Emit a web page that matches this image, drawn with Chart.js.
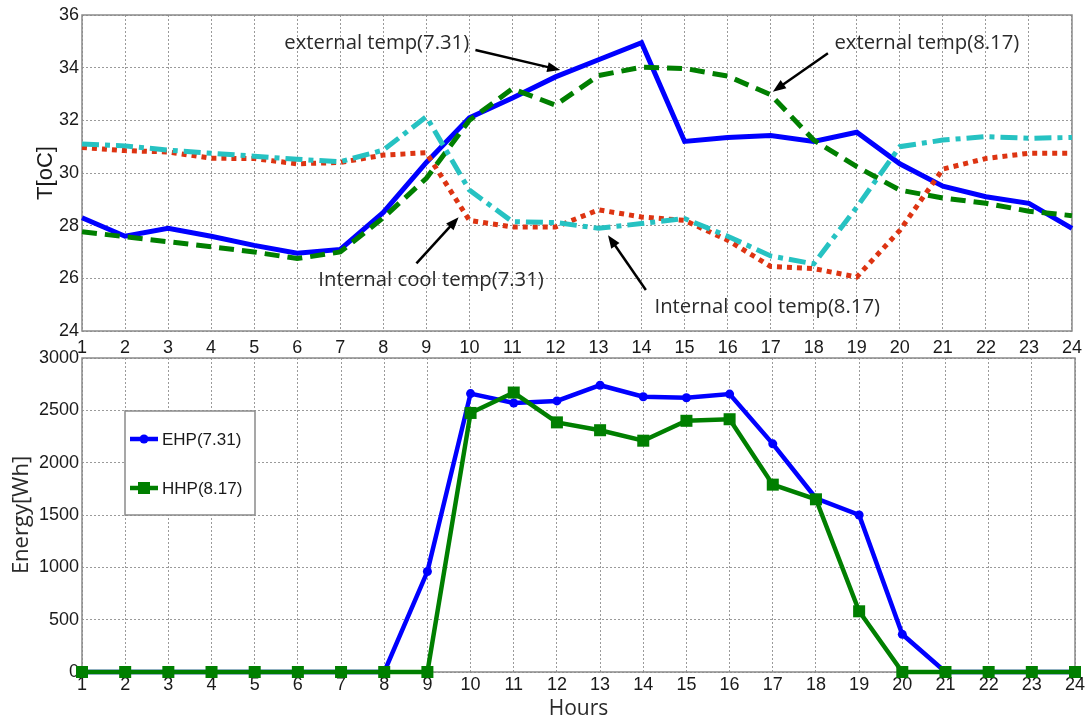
<!DOCTYPE html>
<html><head><meta charset="utf-8">
<script src="https://cdn.jsdelivr.net/npm/chart.js@4.4.0/dist/chart.umd.min.js"></script>
<style>
html,body{margin:0;padding:0;background:#fff;width:1088px;height:723px;overflow:hidden;}
#c1{position:absolute;left:0;top:0;}
#c2{position:absolute;left:0;top:340px;}
</style></head><body>
<canvas id="c1" width="1088" height="358"></canvas>
<canvas id="c2" width="1088" height="383"></canvas>
<script>
const hours = ['1','2','3','4','5','6','7','8','9','10','11','12','13','14','15','16','17','18','19','20','21','22','23','24'];
const extTemp731 = [28.3,27.6,27.9,27.6,27.25,26.95,27.1,28.5,30.4,32.1,32.85,33.65,34.3,34.95,31.2,31.35,31.42,31.2,31.55,30.35,29.5,29.1,28.85,27.9];
const intTemp731 = [30.97,30.85,30.8,30.56,30.55,30.35,30.4,30.68,30.77,28.2,27.95,27.95,28.6,28.33,28.2,27.45,26.45,26.37,26.05,27.82,30.15,30.55,30.75,30.75];
const extTemp817 = [27.77,27.58,27.39,27.2,27.0,26.75,27.0,28.3,29.8,32.0,33.2,32.58,33.7,34.02,33.97,33.68,32.97,31.25,30.24,29.35,29.05,28.85,28.55,28.38];
const intTemp817 = [31.1,31.03,30.87,30.75,30.64,30.52,30.43,30.87,32.14,29.35,28.15,28.12,27.9,28.08,28.27,27.6,26.85,26.55,28.7,31.0,31.25,31.38,31.32,31.35];
const tempTicks = [24,26,28,30,32,34,36];
const energyEHP731 = [0,0,0,0,0,0,0,0,960,2660,2570,2590,2740,2630,2620,2655,2180,1660,1500,360,0,0,0,0];
const energyHHP817 = [0,0,0,0,0,0,0,0,0,2475,2670,2385,2310,2210,2400,2415,1790,1650,580,0,0,0,0,0];
const energyTicks = [0,500,1000,1500,2000,2500,3000];

const tempNotes = [
  {text:'external temp(7.31)', at:[5.7,34.92], from:[10.14,34.67], to:[12.11,33.91]},
  {text:'external temp(8.17)', at:[18.48,34.92], from:[18.33,34.55], to:[17.05,33.09]},
  {text:'Internal cool temp(7.31)', at:[6.49,25.94], from:[8.77,26.57], to:[9.75,28.32]},
  {text:'Internal cool temp(8.17)', at:[14.30,24.92], from:[14.10,25.56], to:[13.22,27.64]}
];

const TICK_FONT = {family:'"Liberation Sans", Arial, sans-serif', size:18};
const NOTE_FONT = '20.3px "Open Sans", sans-serif';
const GRID = {color:'#9a9a9a', lineWidth:1, drawTicks:false};

const frame = {
  id:'frame',
  beforeDatasetsDraw(chart){
    const {ctx, chartArea:a} = chart;
    ctx.save(); ctx.strokeStyle='#8a8a8a'; ctx.lineWidth=1.5;
    ctx.strokeRect(a.left,a.top,a.right-a.left,a.bottom-a.top); ctx.restore();
  }
};

const notes = {
  id:'notes',
  afterDatasetsDraw(chart){
    const {ctx, scales:{x,y}} = chart;
    const px = h => x.getPixelForValue(h-1);
    ctx.save();
    tempNotes.forEach(n=>{
      ctx.font = NOTE_FONT; ctx.fillStyle='#2a2a2a'; ctx.textAlign='left'; ctx.textBaseline='middle';
      ctx.fillText(n.text, px(n.at[0]), y.getPixelForValue(n.at[1]));
      const x1=px(n.from[0]), y1=y.getPixelForValue(n.from[1]);
      const x2=px(n.to[0]), y2=y.getPixelForValue(n.to[1]);
      const ang=Math.atan2(y2-y1,x2-x1), L=13, W=5;
      ctx.strokeStyle='#000'; ctx.lineWidth=2.5;
      ctx.beginPath(); ctx.moveTo(x1,y1); ctx.lineTo(x2-Math.cos(ang)*L*0.8,y2-Math.sin(ang)*L*0.8); ctx.stroke();
      ctx.fillStyle='#000'; ctx.beginPath();
      ctx.moveTo(x2,y2);
      ctx.lineTo(x2-Math.cos(ang)*L-Math.sin(ang)*W, y2-Math.sin(ang)*L+Math.cos(ang)*W);
      ctx.lineTo(x2-Math.cos(ang)*L+Math.sin(ang)*W, y2-Math.sin(ang)*L-Math.cos(ang)*W);
      ctx.closePath(); ctx.fill();
    });
    ctx.restore();
  }
};

new Chart(document.getElementById('c1'), {
  type:'line',
  data:{labels:hours, datasets:[
    {data:extTemp731, borderColor:'#0000ff', borderWidth:5, pointRadius:0, order:4},
    {data:intTemp731, borderColor:'#dd3412', borderWidth:5, borderDash:[5,5], pointRadius:0, order:3},
    {data:extTemp817, borderColor:'#007f00', borderWidth:5, borderDash:[15,8], pointRadius:0, order:2},
    {data:intTemp817, borderColor:'#26c2c2', borderWidth:5, borderDash:[17,6,5,6], pointRadius:0, order:1}
  ]},
  options:{
    responsive:false, animation:false, devicePixelRatio:1,
    layout:{padding:{top:15,right:13,left:0,bottom:0}},
    plugins:{legend:{display:false}, tooltip:{enabled:false}},
    elements:{line:{tension:0, borderCapStyle:'butt', borderJoinStyle:'miter'}},
    scales:{
      x:{type:'category', offset:false, grid:{...GRID, offset:false}, border:{display:false, dash:[2,2]},
         ticks:{font:TICK_FONT, color:'#1a1a1a', padding:6, maxRotation:0, autoSkip:false},
         afterFit:s=>{s.height=27;}},
      y:{min:24, max:36, grid:GRID, border:{display:false, dash:[2,2]},
         afterBuildTicks:s=>{s.ticks=tempTicks.map(v=>({value:v}));},
         ticks:{font:TICK_FONT, color:'#1a1a1a', padding:3, callback:v=>String(v)},
         title:{display:true, text:'T[oC]', font:{family:'"Liberation Sans", Arial, sans-serif', size:22}, color:'#1a1a1a', padding:{top:33,bottom:0}},
         afterFit:s=>{s.width=82;}}
    }
  },
  plugins:[frame, notes]
});

const legendBox = {
  id:'legendBox',
  afterDatasetsDraw(chart){
    const {ctx, chartArea:a} = chart;
    const bx=a.left+43, by=a.top+53, bw=130, bh=104;
    ctx.save();
    ctx.fillStyle='#fff'; ctx.fillRect(bx,by,bw,bh);
    ctx.strokeStyle='#8a8a8a'; ctx.lineWidth=1.5; ctx.strokeRect(bx,by,bw,bh);
    const items=[{ds:chart.data.datasets[0], dy:28},{ds:chart.data.datasets[1], dy:77}];
    items.forEach(it=>{
      const d=it.ds, yy=by+it.dy;
      ctx.strokeStyle=d.borderColor; ctx.lineWidth=d.borderWidth;
      ctx.beginPath(); ctx.moveTo(bx+5,yy); ctx.lineTo(bx+33,yy); ctx.stroke();
      ctx.fillStyle=d.borderColor;
      if(d.pointStyle==='rect'){ ctx.fillRect(bx+19-6,yy-6,12,12); }
      else { ctx.beginPath(); ctx.arc(bx+19,yy,4.5,0,Math.PI*2); ctx.fill(); }
      ctx.fillStyle='#1a1a1a'; ctx.font='17px "Liberation Sans", Arial, sans-serif';
      ctx.textAlign='left'; ctx.textBaseline='middle';
      ctx.fillText(d.label, bx+37, yy+1);
    });
    ctx.restore();
  }
};

new Chart(document.getElementById('c2'), {
  type:'line',
  data:{labels:hours, datasets:[
    {label:'EHP(7.31)', data:energyEHP731, borderColor:'#0000ff', backgroundColor:'#0000ff', borderWidth:4.5, pointStyle:'circle', pointRadius:4.5, pointBorderWidth:0, order:2, clip:false},
    {label:'HHP(8.17)', data:energyHHP817, borderColor:'#007f00', backgroundColor:'#007f00', borderWidth:4.5, pointStyle:'rect', pointRadius:8.5, pointBorderWidth:0, order:1, clip:false}
  ]},
  options:{
    responsive:false, animation:false, devicePixelRatio:1,
    layout:{padding:{top:18,right:13,left:0,bottom:0}},
    plugins:{legend:{display:false}, tooltip:{enabled:false}},
    elements:{line:{tension:0, borderCapStyle:'butt', borderJoinStyle:'miter'}},
    scales:{
      x:{type:'category', offset:false, grid:{...GRID, offset:false}, border:{display:false, dash:[2,2]},
         ticks:{font:TICK_FONT, color:'#1a1a1a', padding:2, maxRotation:0, autoSkip:false},
         title:{display:true, text:'Hours', font:{family:'"Open Sans", sans-serif', size:21}, color:'#2a2a2a', padding:{top:0,bottom:1}},
         afterFit:s=>{s.height=51;}},
      y:{min:0, max:3000, grid:GRID, border:{display:false, dash:[2,2]},
         afterBuildTicks:s=>{s.ticks=energyTicks.map(v=>({value:v}));},
         ticks:{font:TICK_FONT, color:'#1a1a1a', padding:3, callback:v=>String(v)},
         title:{display:true, text:'Energy[Wh]', font:{family:'"Open Sans", sans-serif', size:22}, color:'#2a2a2a', padding:{top:9,bottom:0}},
         afterFit:s=>{s.width=82;}}
    }
  },
  plugins:[frame, legendBox]
});
</script>
</body></html>
